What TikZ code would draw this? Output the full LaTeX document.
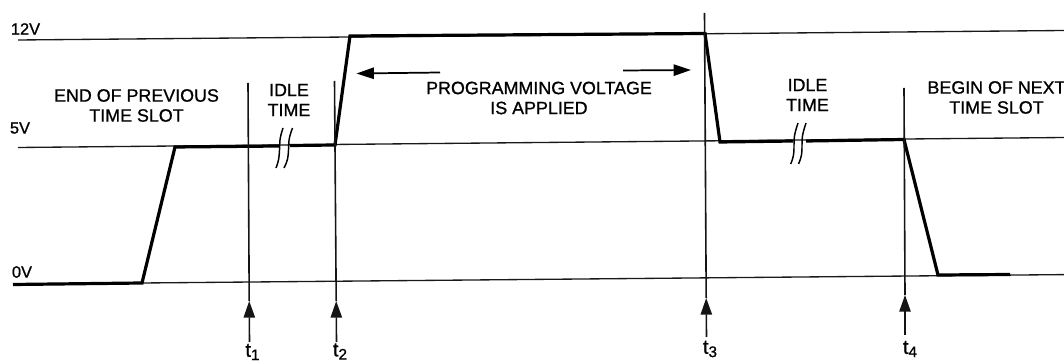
\documentclass[tikz,border=0pt]{standalone}
\usepackage{fontspec}
\setmainfont{Liberation Sans}
\newfontfamily\labfont[FakeBold=0.9]{Liberation Sans}
\usetikzlibrary{arrows.meta}
\newcommand{\tsub}[1]{t\raisebox{-2.5pt}{\fontsize{11.5}{12}\selectfont #1}}
\tikzset{
  thinline/.style={draw=black!90,line width=1pt},
  wave/.style={draw=black,line width=2.4pt,line join=miter},
  marker/.style={draw=black!92,line width=1.2pt},
  tickhead/.style={-{Triangle[length=12.5pt,width=8.5pt]}},
  spanhead/.style={-{Triangle[length=13pt,width=8.5pt]},draw=black,line width=1.3pt},
  breakmark/.style={draw=black,line width=1.1pt},
  lab/.style={inner sep=0pt,align=center,text=black,font=\labfont\fontsize{13.4}{15}\selectfont},
  volt/.style={inner sep=0pt,text=black,font=\labfont\fontsize{12.3}{14}\selectfont},
  tlab/.style={inner sep=0pt,text=black,font=\labfont\fontsize{15}{16}\selectfont}
}
\begin{document}
\begin{tikzpicture}[x=0.75pt,y=-0.75pt]
\useasboundingbox (0,0) rectangle (1064,363);
% reference rails
\coordinate (r12a) at (18,40);
\coordinate (r12b) at (1064,30.5);
\coordinate (r5a) at (18,147.5);
\coordinate (r5b) at (1064,137.5);
\coordinate (r0a) at (142,283);
\coordinate (r0b) at (1064,274.6);
\draw[thinline] (r12a) -- (r12b);
\draw[thinline] (r5a) -- (r5b);
\draw[thinline] (r0a) -- (r0b);
% waveform
\coordinate (w0) at (13,284.5);
\coordinate (w1) at (142,283);
\coordinate (w2) at (175,147);
\coordinate (w3a) at (279,146);
\coordinate (w3b) at (290,145.5);
\coordinate (w4) at (335,145);
\coordinate (w5) at (350,36);
\coordinate (w6) at (705,33.5);
\coordinate (w7) at (720,142);
\coordinate (w8a) at (793,141);
\coordinate (w8b) at (806,141);
\coordinate (w9) at (904,139.5);
\coordinate (w10) at (938,275);
\coordinate (w11) at (1010,274.5);
\draw[wave] (w0) -- (w1) -- (w2) -- (w3a);
\draw[wave] (w3b) -- (w4) -- (w5) -- (w6) -- (w7) -- (w8a);
\draw[wave] (w8b) -- (w9) -- (w10) -- (w11);
% time markers
\coordinate (t1top) at (248,83);
\coordinate (t1tip) at (249.2,301);
\coordinate (t1low) at (249.5,342);
\coordinate (t2top) at (334.5,81);
\coordinate (t2tip) at (336.2,301);
\coordinate (t2low) at (336.5,342);
\coordinate (t3top) at (704.5,13);
\coordinate (t3tip) at (706.2,298);
\coordinate (t3low) at (706.5,337);
\coordinate (t4top) at (904,88);
\coordinate (t4tip) at (905,295);
\coordinate (t4low) at (905,335);
\foreach \n in {1,2,3,4}{
  \draw[marker] (t\n top) -- (t\n tip);
  \draw[marker,tickhead] (t\n low) -- (t\n tip);
}
% span arrows
\coordinate (sl0) at (440,72.5);
\coordinate (sl1) at (356.5,73.5);
\coordinate (sr0) at (623,70.5);
\coordinate (sr1) at (691,70);
\draw[spanhead] (sl0) -- (sl1);
\draw[spanhead] (sr0) -- (sr1);
% break marks
\draw[breakmark] (283,128) .. controls (279,140) and (280,142) .. (279.5,150) .. controls (279,158) and (279,160) .. (276,168);
\draw[breakmark] (292.5,128) .. controls (288,140) and (289,142) .. (288.5,150) .. controls (288,158) and (288,160) .. (284,168);
\draw[breakmark] (798,123) .. controls (794,135) and (794,138) .. (794,145) .. controls (794,153) and (794,156) .. (790.7,164);
\draw[breakmark] (806,123) .. controls (802,135) and (802,138) .. (802,145) .. controls (802,153) and (802,156) .. (798.5,164);
% labels
\node[volt] (v12) at (25.5,29) {12V};
\node[volt] (v5) at (20,128) {5V};
\node[volt] (v0) at (22,272) {0V};
\node[lab] (prev) at (136.5,105.5) {END OF PREVIOUS\\TIME SLOT};
\node[lab] (idle1) at (289,100) {IDLE\\TIME};
\node[lab] (prog) at (539,98) {PROGRAMMING VOLTAGE\\IS APPLIED};
\node[lab] (idle2) at (807.5,95) {IDLE\\TIME};
\node[lab] (next) at (996.5,97.5) {BEGIN OF NEXT\\TIME SLOT};
\node[tlab] (l1) at (252.5,352) {\tsub{1}};
\node[tlab] (l2) at (340,351.5) {\tsub{2}};
\node[tlab] (l3) at (710,349) {\tsub{3}};
\node[tlab] (l4) at (910,349) {\tsub{4}};
\end{tikzpicture}
\end{document}
